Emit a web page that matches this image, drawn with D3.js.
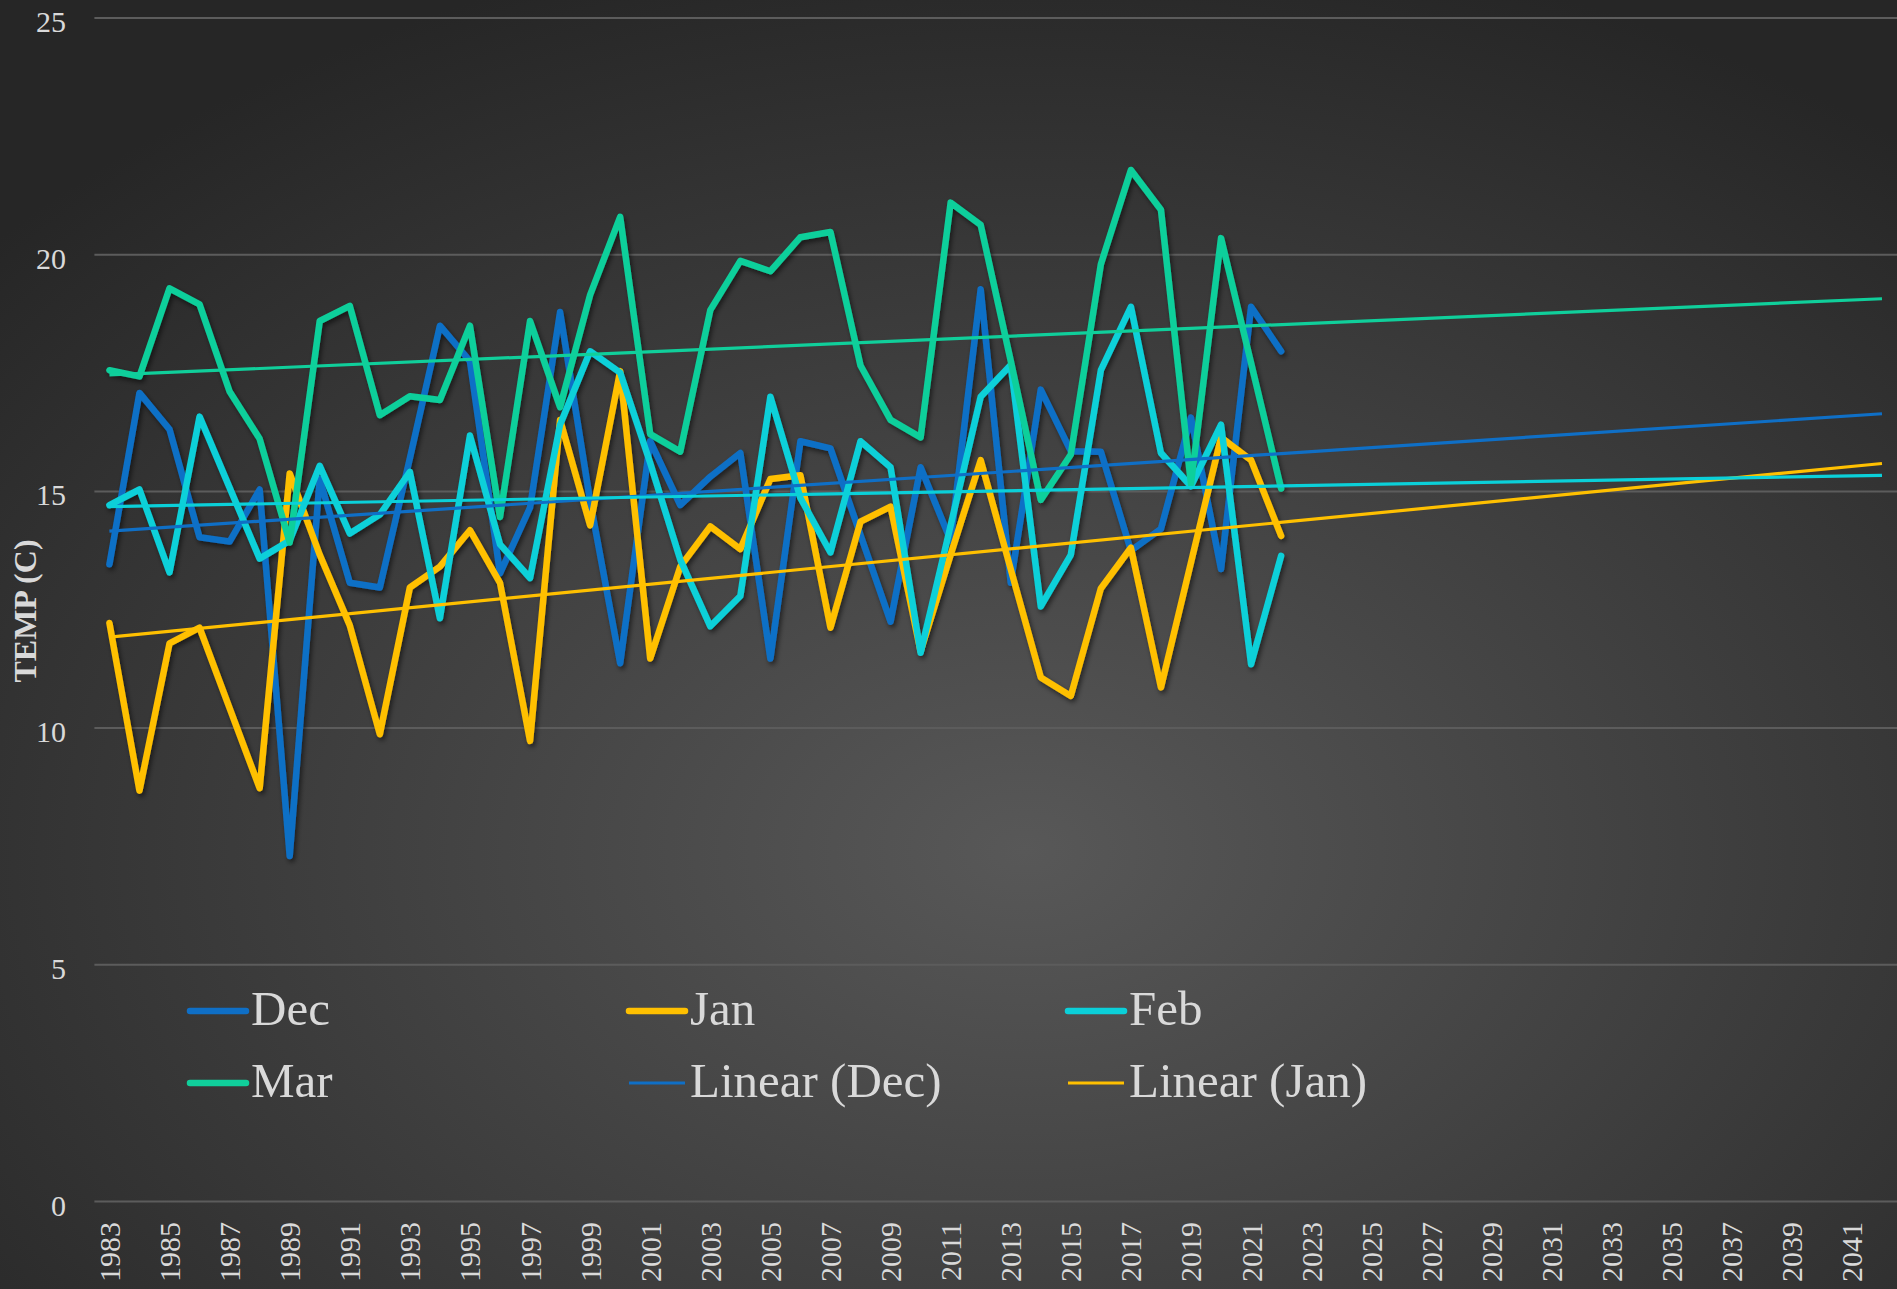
<html>
<head>
<script src="https://d3js.org/d3.v7.min.js"></script>
<style>
  body { margin: 0; background: #2b2b2b; }
  .tick text { font-family: "Liberation Serif", "DejaVu Serif", serif; fill: #d9d9d9; }
  .legend text { font-family: "Liberation Serif", "DejaVu Serif", serif; fill: #d9d9d9; }
</style>
</head>
<body>
<div id="chart"></div>
<script>
// data
var years = [1983,1984,1985,1986,1987,1988,1989,1990,1991,1992,1993,1994,1995,1996,1997,1998,1999,2000,2001,2002,
             2003,2004,2005,2006,2007,2008,2009,2010,2011,2012,2013,2014,2015,2016,2017,2018,2019,2020,2021,2022];

var dec = [13.46,17.08,16.31,14.03,13.94,15.04,7.30,15.26,13.07,12.97,15.7,18.50,17.75,13.27,14.66,18.79,14.8,11.37,16.06,14.71,
           15.31,15.81,11.47,16.06,15.91,14.08,12.25,15.51,13.96,19.27,13.07,17.15,15.85,15.84,13.75,14.21,16.56,13.36,18.90,17.96];
var jan = [12.22,8.68,11.79,12.12,10.42,8.73,15.38,13.66,12.17,9.87,12.97,13.41,14.18,13.07,9.73,16.51,14.28,17.54,11.47,13.41,
           14.26,13.78,15.26,15.34,12.12,14.36,14.68,11.62,13.66,15.66,13.36,11.07,10.68,12.95,13.81,10.86,13.5,16.14,15.66,14.06];
var feb = [14.71,15.04,13.29,16.58,15.08,13.58,13.96,15.54,14.11,14.51,15.41,12.32,16.18,13.88,13.17,16.41,17.96,17.51,15.6,13.56,
           12.15,12.79,17.00,14.86,13.71,16.06,15.51,11.59,14.28,17.00,17.67,12.57,13.66,17.56,18.90,15.81,15.11,16.41,11.35,13.64];
var mar = [17.56,17.43,19.29,18.95,17.11,16.11,13.92,18.60,18.92,16.61,17.01,16.93,18.50,14.46,18.60,16.78,19.15,20.80,16.21,15.84,
           18.83,19.87,19.65,20.37,20.48,17.66,16.51,16.14,21.10,20.63,17.76,14.82,15.78,19.80,21.79,20.95,15.16,20.35,17.71,15.06];

// linear trend lines: value at first and last category
var trendNames = ["Dec", "Jan", "Feb", "Mar"];
var trendYears = [1983, 2042];
var trendStart = [14.16, 11.92, 14.68, 17.46];
var trendEnd   = [16.64, 15.59, 15.34, 19.07];

var seriesNames = ["Dec", "Jan", "Feb", "Mar"];
var yTicks = [0, 5, 10, 15, 20, 25];
var legendLabels = ["Dec", "Jan", "Feb", "Mar", "Linear (Dec)", "Linear (Jan)"];

var colors = { Dec: "#0F6FC6", Jan: "#FFC000", Feb: "#0BD0D9", Mar: "#10CF9B" };

var W = 1897, H = 1289;
var svg = d3.select("#chart").append("svg").attr("width", W).attr("height", H);

var defs = svg.append("defs");
var grad = defs.append("radialGradient").attr("id", "bg")
    .attr("cx", "54%").attr("cy", "66%").attr("r", "72%");
grad.append("stop").attr("offset", "0%").attr("stop-color", "#585858");
grad.append("stop").attr("offset", "100%").attr("stop-color", "#262626");
var shadow = defs.append("filter").attr("id", "shadow")
    .attr("x", "-5%").attr("y", "-5%").attr("width", "110%").attr("height", "110%");
shadow.append("feDropShadow").attr("dx", 2).attr("dy", 3).attr("stdDeviation", 2.5)
    .attr("flood-color", "#000").attr("flood-opacity", 0.55);

svg.append("rect").attr("width", W).attr("height", H).attr("fill", "url(#bg)");

var axisYears = d3.range(1983, 2043);
var x = d3.scaleBand().domain(axisYears).range([94.4, 1897]);
var y = d3.scaleLinear().domain([0, 25]).range([1201.5, 18]);
var cx = function(yr) { return x(yr) + x.bandwidth() / 2; };

// gridlines
svg.append("g").selectAll("line").data(yTicks).enter().append("line")
    .attr("x1", 94.4).attr("x2", W)
    .attr("y1", function(d){ return y(d); }).attr("y2", function(d){ return y(d); })
    .attr("stroke", "#5c5c5c").attr("stroke-width", 2);

// y axis
var yAxis = svg.append("g").attr("transform", "translate(66,0)")
    .call(d3.axisLeft(y).tickValues(yTicks).tickSize(0).tickPadding(0));
yAxis.select(".domain").remove();
yAxis.selectAll("text").attr("font-size", 30).attr("dy", "0.45em");

// x axis
var xAxis = svg.append("g").attr("transform", "translate(0,1222)")
    .call(d3.axisBottom(x).tickValues(axisYears.filter(function(d){ return (d - 1983) % 2 === 0; }))
    .tickSize(0).tickPadding(0));
xAxis.select(".domain").remove();
xAxis.selectAll("text").attr("font-size", 30)
    .attr("transform", "rotate(-90)")
    .attr("text-anchor", "end")
    .attr("x", 0).attr("y", 0).attr("dy", "0.35em");

svg.append("text")
    .attr("transform", "translate(25,611) rotate(-90)")
    .attr("text-anchor", "middle").attr("dominant-baseline", "central")
    .attr("font-family", "Liberation Serif, serif").attr("font-weight", "bold")
    .attr("font-size", 32).attr("fill", "#d9d9d9")
    .text("TEMP (C)");

// data lines
var values = { Dec: dec, Jan: jan, Feb: feb, Mar: mar };
var line = d3.line()
    .x(function(d){ return cx(d[0]); })
    .y(function(d){ return y(d[1]); });

var lines = svg.append("g").attr("filter", "url(#shadow)");
seriesNames.forEach(function(name) {
    lines.append("path")
        .datum(years.map(function(yr, i){ return [yr, values[name][i]]; }))
        .attr("fill", "none").attr("stroke", colors[name])
        .attr("stroke-width", 6.5).attr("stroke-linejoin", "round").attr("stroke-linecap", "round")
        .attr("d", line);
});

// trend lines
trendNames.forEach(function(name, i) {
    svg.append("path")
        .datum([[trendYears[0], trendStart[i]], [trendYears[1], trendEnd[i]]])
        .attr("fill", "none").attr("stroke", colors[name])
        .attr("stroke-width", 3.2)
        .attr("d", line);
});

// legend
var legend = svg.append("g").attr("class", "legend");
legendLabels.forEach(function(label, i) {
    var col = i % 3, row = Math.floor(i / 3);
    var lx = 190 + col * 439, ly = 1011 + row * 72;
    var isTrend = label.indexOf("Linear") === 0;
    var key = isTrend ? label.slice(8, 11) : label;
    legend.append("line")
        .attr("x1", lx).attr("x2", lx + 56).attr("y1", ly).attr("y2", ly)
        .attr("stroke", colors[key]).attr("stroke-width", isTrend ? 3.2 : 6.5)
        .attr("stroke-linecap", isTrend ? "butt" : "round");
    legend.append("text")
        .attr("x", lx + 61).attr("y", ly + 14)
        .attr("font-size", 49)
        .text(label);
});
</script>
</body>
</html>
